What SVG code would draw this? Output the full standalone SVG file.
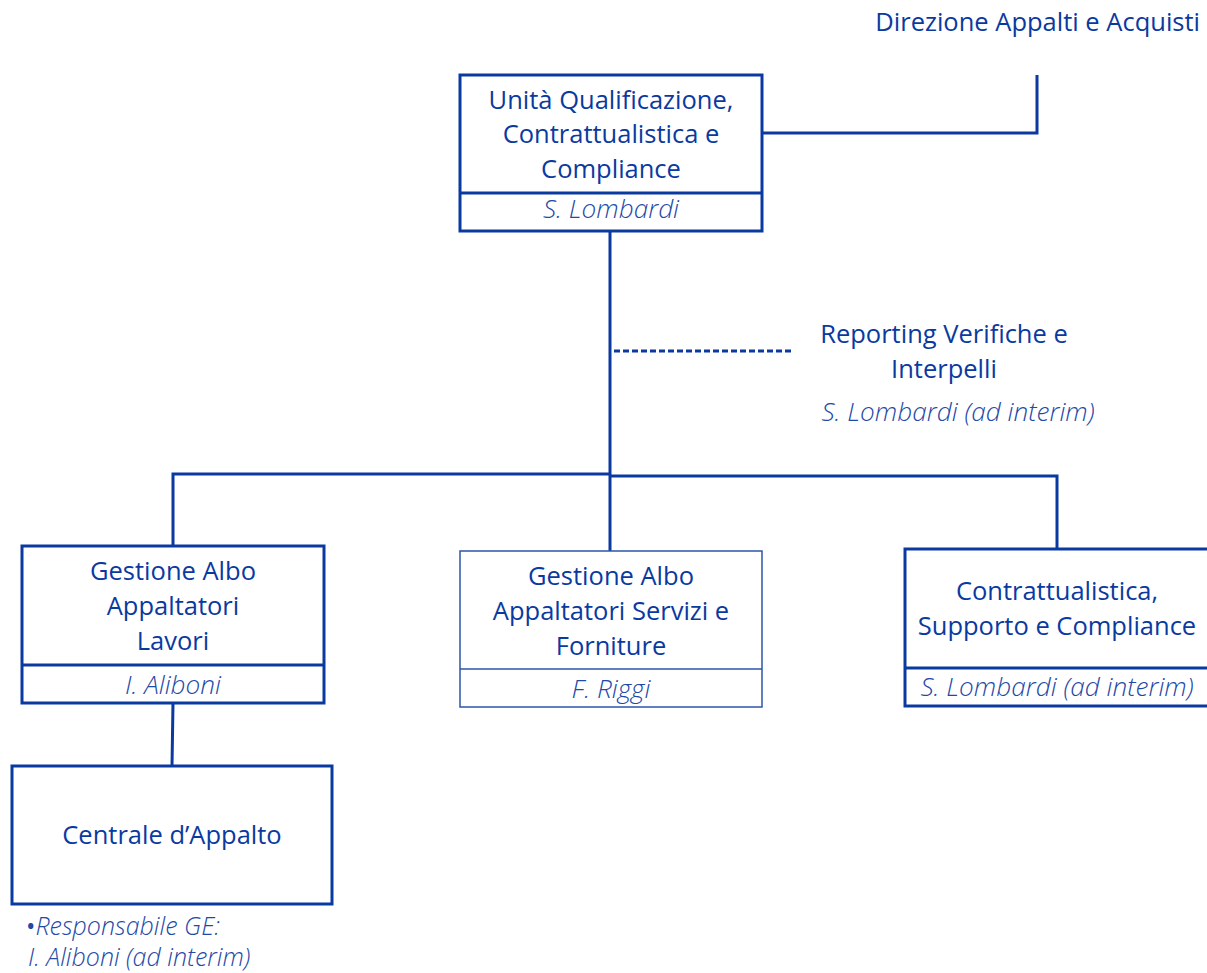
<svg xmlns="http://www.w3.org/2000/svg" width="1207" height="973" viewBox="0 0 1207 973">
<style>
.t{font-family:"Open Sans","Noto Sans","Liberation Sans",sans-serif;font-size:25.5px;fill:#0a3aa0;text-anchor:middle}
.i{font-family:"Open Sans","Noto Sans","Liberation Sans",sans-serif;font-size:26.2px;font-style:italic;font-weight:300;fill:#1f4aa8;text-anchor:middle}
.s{font-size:25px;text-anchor:start}
.b{fill:#fff;stroke:#0a3aa0;stroke-width:3}
.bt{fill:#fff;stroke:#2d55aa;stroke-width:1.5}
.c{fill:none;stroke:#0a3aa0;stroke-width:3}
</style>
<rect width="1207" height="973" fill="#fff"/>
<g id="connectors">
<polyline class="c" points="762,133 1037,133 1037,75"/>
<line class="c" x1="610" y1="231" x2="610" y2="551"/>
<line class="c" x1="614" y1="351" x2="794" y2="351" stroke-dasharray="6,3"/>
<polyline class="c" points="173,546 173,474 610,474"/>
<polyline class="c" points="610,476 1057,476 1057,549"/>
<line class="c" x1="173" y1="703" x2="172" y2="766"/>
</g>
<g id="direzione">
<text class="t" x="1200" y="31" style="text-anchor:end">Direzione Appalti e Acquisti</text>
</g>
<g id="unita">
<rect class="b" x="460" y="75" width="302" height="156"/>
<line class="c" x1="460" y1="193" x2="762" y2="193"/>
<text class="t" x="611" y="109">Unità Qualificazione,</text>
<text class="t" x="611" y="143">Contrattualistica e</text>
<text class="t" x="611" y="178">Compliance</text>
<text class="i" x="611" y="218">S. Lombardi</text>
</g>
<g id="reporting">
<text class="t" x="944" y="343">Reporting Verifiche e</text>
<text class="t" x="944" y="378">Interpelli</text>
<text class="i" x="958" y="421">S. Lombardi (ad interim)</text>
</g>
<g id="lavori">
<rect class="b" x="22" y="546" width="302" height="157"/>
<line class="c" x1="22" y1="665" x2="324" y2="665"/>
<text class="t" x="173" y="580">Gestione Albo</text>
<text class="t" x="173" y="615">Appaltatori</text>
<text class="t" x="173" y="650">Lavori</text>
<text class="i" x="173" y="694">I. Aliboni</text>
</g>
<g id="servizi">
<rect class="bt" x="460" y="551" width="302" height="156"/>
<line class="bt" x1="460" y1="669" x2="762" y2="669"/>
<text class="t" x="611" y="585">Gestione Albo</text>
<text class="t" x="611" y="620">Appaltatori Servizi e</text>
<text class="t" x="611" y="655">Forniture</text>
<text class="i" x="611" y="698">F. Riggi</text>
</g>
<g id="contrattualistica">
<rect class="b" x="905" y="549" width="310" height="157"/>
<line class="c" x1="905" y1="668" x2="1207" y2="668"/>
<text class="t" x="1057" y="600">Contrattualistica,</text>
<text class="t" x="1057" y="635">Supporto e Compliance</text>
<text class="i" x="1057" y="696">S. Lombardi (ad interim)</text>
</g>
<g id="centrale">
<rect class="b" x="12" y="766" width="320" height="138"/>
<text class="t" x="172" y="844">Centrale d’Appalto</text>
<text class="i s" x="26" y="935"><tspan font-style="normal" font-weight="400">•</tspan>Responsabile GE:</text>
<text class="i s" x="28" y="966">I. Aliboni (ad interim)</text>
</g>
</svg>
